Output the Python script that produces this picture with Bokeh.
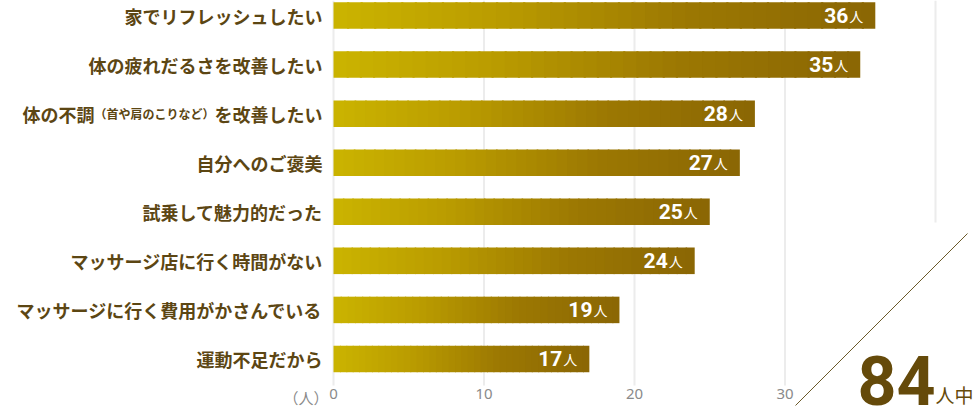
from bokeh.plotting import figure
from bokeh.models import Range1d, FixedTicker, ColumnDataSource
from bokeh.core.properties import value
from bokeh.embed import file_html
from bokeh.resources import INLINE

# ---- data ----
categories = [
    "家でリフレッシュしたい",
    "体の疲れだるさを改善したい",
    "体の不調（首や肩のこりなど）を改善したい",
    "自分へのご褒美",
    "試乗して魅力的だった",
    "マッサージ店に行く時間がない",
    "マッサージに行く費用がかさんでいる",
    "運動不足だから",
]
values = [36, 35, 28, 27, 25, 24, 19, 17]
unit = "人"
total = 84
total_suffix = "人中"
axis_unit = "（人）"
tick_values = [0, 10, 20, 30]
extra_grid = 40

# ---- layout (pixel geometry of the canvas) ----
W, H = 976, 407
ZERO_PX = 333          # canvas x of value 0
PX_X = 15.05           # pixels per person
ROW = 49.07            # pixels per category row
FIRST_CENTER = 15      # canvas y of first bar centre
AXIS_PX = 385          # canvas y of the value axis
x_start = -ZERO_PX / PX_X
x_end = (W - ZERO_PX) / PX_X
y_top = (len(values) - 1) + FIRST_CENTER / ROW
y_bot = y_top - H / ROW


def xd(px):
    return (px - ZERO_PX) / PX_X


def yd(py):
    return y_top - py / ROW


BROWN = "#5c4613"
GOLD_DARK = "#654a0a"
GRID = "#ececec"
CJK = "Noto Sans CJK JP"

p = figure(width=W, height=H, output_backend="svg", toolbar_location=None,
           x_range=Range1d(x_start, x_end), y_range=Range1d(y_bot, y_top),
           min_border_left=0, min_border_right=0, min_border_top=0,
           min_border_bottom=0)
p.outline_line_color = None
p.background_fill_color = "white"
p.border_fill_color = "white"
p.xgrid.visible = False
p.ygrid.visible = False

ys = [len(values) - 1 - i for i in range(len(values))]

# ---- value axis ----
ax = p.xaxis[0]
ax.fixed_location = yd(AXIS_PX)
ax.ticker = FixedTicker(ticks=tick_values)
ax.axis_line_color = None
ax.major_tick_line_color = None
ax.minor_tick_line_color = None
ax.major_tick_out = 0
ax.major_tick_in = 0
ax.major_label_text_color = "#8a8a8a"
ax.major_label_text_font = "Noto Sans"
ax.major_label_text_font_size = "15px"
ax.major_label_standoff = 3

# ---- category axis ----
special = [c for c in categories if "（" in c]
yax = p.yaxis[0]
yax.fixed_location = 0
yax.ticker = FixedTicker(ticks=ys)
yax.major_label_overrides = {y: ("" if c in special else c) for y, c in zip(ys, categories)}
yax.axis_line_color = None
yax.major_tick_line_color = None
yax.minor_tick_line_color = None
yax.major_tick_out = 0
yax.major_tick_in = 0
yax.major_label_text_color = BROWN
yax.major_label_text_font = CJK
yax.major_label_text_font_style = "bold"
yax.major_label_text_font_size = "18px"
yax.major_label_standoff = 11

# ---- grid lines ----
p.segment(x0=tick_values, x1=tick_values, y0=[yd(AXIS_PX)] * len(tick_values),
          y1=[y_top] * len(tick_values), line_color=GRID, line_width=2)
p.segment(x0=[extra_grid], x1=[extra_grid], y0=[yd(222)], y1=[y_top],
          line_color=GRID, line_width=2)

# ---- gradient bars ----
stops = [(0.0, (203, 180, 0)), (0.3, (186, 156, 0)),
         (0.65, (156, 120, 2)), (1.0, (138, 102, 4))]


def grad(t):
    for (t0, c0), (t1, c1) in zip(stops[:-1], stops[1:]):
        if t <= t1:
            f = (t - t0) / (t1 - t0)
            return "#%02x%02x%02x" % tuple(int(round(a + (b - a) * f)) for a, b in zip(c0, c1))
    return "#%02x%02x%02x" % stops[-1][1]


N = 40
half = 0.27
L, R, T, B, C = [], [], [], [], []
for v, y in zip(values, ys):
    for k in range(N):
        L.append(v * k / N)
        R.append(min(v, v * (k + 1) / N + v * 0.004))
        T.append(y + half)
        B.append(y - half)
        C.append(grad((k + 0.5) / N))
p.quad(left=L, right=R, top=T, bottom=B, fill_color=C, line_color=None)

# ---- special mixed-size label ----
big = 18
small = 12
for cat, y in zip(categories, ys):
    if cat in special:
        a, rest = cat.split("（", 1)
        note, b = rest.split("）", 1)
        note = "（" + note + "）"
        off_b = -11
        off_note = off_b - len(b) * big
        off_a = off_note - len(note) * small
        for txt, off, fs in ((b, off_b, big), (note, off_note, small), (a, off_a, big)):
            p.text(x=[0], y=[y], text=[txt], x_offset=off, text_align="right",
                   text_baseline="middle", text_font=value(CJK), text_font_style="bold",
                   text_font_size=f"{fs}px", text_color=BROWN)

# ---- value labels ----
src = ColumnDataSource(dict(x=values, y=ys, num=[str(v) for v in values],
                            u=[unit] * len(values)))
p.text(x="x", y="y", text="num", source=src, x_offset=-27, text_align="right",
       text_baseline="middle", text_font=value("Roboto"), text_font_style="bold",
       text_font_size="21px", text_color="white")
p.text(x="x", y="y", text="u", source=src, x_offset=-12, text_align="right",
       text_baseline="middle", text_font=value(CJK),
       text_font_size="14px", text_color="white")

# ---- axis unit ----
p.text(x=[0], y=[yd(397)], text=[axis_unit], x_offset=-5, text_align="right",
       text_baseline="middle", text_font=value(CJK), text_font_size="15px",
       text_color="#8a8a8a")

# ---- total ----
p.line(x=[xd(795), xd(967)], y=[yd(405), yd(233)], line_color="#6b5a2a", line_width=1)
p.text(x=[xd(857)], y=[yd(380)], text=[str(total)], text_align="left",
       text_baseline="middle", text_font=value("Roboto"), text_font_style="bold",
       text_font_size="68px", text_color=GOLD_DARK)
p.text(x=[xd(973)], y=[yd(394)], text=[total_suffix], text_align="right",
       text_baseline="middle", text_font=value(CJK),
       text_font_size="19px", text_color=GOLD_DARK)

open("out.html", "w").write(file_html(p, INLINE))
